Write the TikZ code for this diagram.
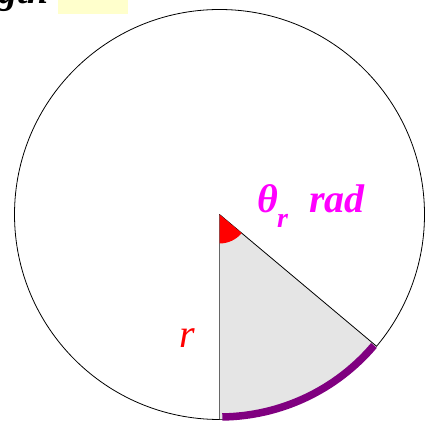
\documentclass[tikz,border=0pt]{standalone}
\usepackage{fontspec}
\setmainfont{Liberation Serif}[
  UprightFont={Liberation Serif},
  BoldFont={Liberation Serif Bold},
  ItalicFont={Liberation Serif Italic},
  BoldItalicFont={Liberation Serif Bold Italic}]
\usetikzlibrary{calc}
\definecolor{paleyellow}{RGB}{255,255,204}
\definecolor{sectorgray}{RGB}{229,229,229}
\definecolor{arcpurple}{RGB}{128,0,128}
\definecolor{brightmagenta}{RGB}{255,0,255}
\definecolor{brightred}{RGB}{255,0,0}
\begin{document}
\begin{tikzpicture}[x=1pt,y=1pt,
  lbl/.style={inner sep=0pt,anchor=base west},
  bigbi/.style={font=\fontsize{40}{44}\selectfont\bfseries\itshape},
  radline/.style={line width=0.8pt}]
\useasboundingbox (0,0) rectangle (424,425);
% yellow box and cut-off heading
\fill[paleyellow] (57.7,411) rectangle (127.7,425);
\node[lbl,font=\fontsize{38}{42}\selectfont\bfseries\itshape] (head) at (-2,421) {gth};
% circle
\coordinate (O) at (219.5,210.5);
\draw[line width=0.8pt] (O) circle[radius=205];
% sector
\fill[sectorgray] (O) -- ++(-90:205) arc[start angle=-90,end angle=-40,radius=205] -- cycle;
\coordinate (B) at ($(O)+(-90:205)$);
\coordinate (E) at ($(O)+(-40:205)$);
\draw[radline,gray!80!black,line width=1.4pt] (O) -- (B);
\draw[radline] (O) -- (E);
% angle wedge
\fill[brightred] (O) -- ++(-90:29) arc[start angle=-90,end angle=-40,radius=29] -- cycle;
% arc length
\draw[arcpurple,line width=7.5pt] ($(O)+(-89.2:202.5)$) arc[start angle=-89.2,end angle=-40.3,radius=202.5];
% labels
\node[lbl,bigbi,brightmagenta] (theta) at (257,212) {θ};
\node[lbl,brightmagenta,font=\fontsize{28}{30}\selectfont\bfseries\itshape] (sub) at (277,197) {r};
\node[lbl,bigbi,brightmagenta] (rad) at (309,212) {rad};
\node[lbl,brightred,font=\fontsize{40}{44}\selectfont\itshape] (r) at (179,77) {r};
\end{tikzpicture}
\end{document}
